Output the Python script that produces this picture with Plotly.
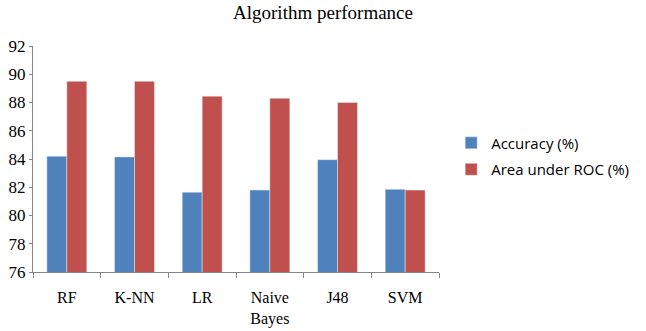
import plotly.graph_objects as go

categories = ["RF", "K-NN", "LR", "Naive<br>Bayes", "J48", "SVM"]
accuracy = [84.2, 84.15, 81.65, 81.8, 83.95, 81.85]
area_roc = [89.5, 89.5, 88.45, 88.3, 88.0, 81.8]

fig = go.Figure()
fig.add_trace(go.Bar(x=categories, y=accuracy, name="Accuracy (%)",
                     marker_color="#4F81BD", legendgroup="a"))
fig.add_trace(go.Bar(x=categories, y=area_roc, name="Area under ROC (%)",
                     marker_color="#C0504D", legendgroup="b"))

fig.update_layout(
    width=646, height=331,
    margin=dict(l=33, r=193, t=46, b=59),
    paper_bgcolor="white", plot_bgcolor="white",
    title=dict(text="Algorithm performance", x=0.5, xanchor="center", xref="container",
               y=1 - 12 / 331, yanchor="middle",
               font=dict(family="Liberation Serif", size=19, color="black")),
    barmode="group", bargap=0.41, bargroupgap=0,
    showlegend=True,
    legend=dict(x=1.03, y=0.513, xanchor="left", yanchor="middle",
                font=dict(family="Open Sans", size=15, color="black"),
                traceorder="grouped", tracegroupgap=4),
    xaxis=dict(showline=True, linecolor="#868686", linewidth=1, automargin=False,
               ticks="outside", tickson="boundaries", ticklen=5, tickcolor="#868686",
               tickfont=dict(family="Liberation Serif", size=16, color="black"),
               ticklabelstandoff=11, showgrid=False),
    yaxis=dict(range=[76, 92], dtick=2, showline=True, linecolor="#868686", linewidth=1,
               automargin=False,
               ticks="outside", ticklen=3, tickcolor="#868686",
               tickfont=dict(family="Liberation Serif", size=17, color="black"),
               showgrid=False, zeroline=False),
)

fig.write_html("out.html", config={"displayModeBar": False},
               post_script="document.body.style.margin='0';")
